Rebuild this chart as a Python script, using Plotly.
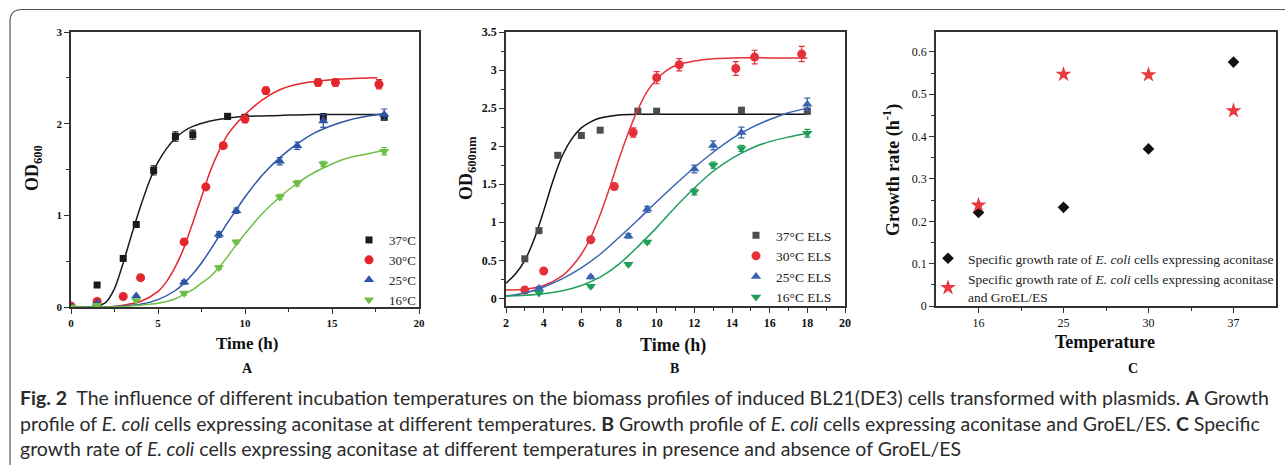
import plotly.graph_objects as go

W, H = 1285, 465

# ---------------- Panel A data ----------------
tA_37 = [0, 1.5, 3, 3.75, 4.75, 6, 7, 9, 10, 14.5, 18]
odA_37 = [0.0, 0.24, 0.53, 0.90, 1.49, 1.86, 1.88, 2.08, 2.07, 2.07, 2.07]
erA_37 = [0, 0, 0.02, 0.02, 0.05, 0.05, 0.05, 0.03, 0.03, 0.04, 0.03]

tA_30 = [0, 1.5, 3, 4, 6.5, 7.75, 8.75, 10, 11.2, 14.2, 15.2, 17.7]
odA_30 = [0.01, 0.06, 0.115, 0.32, 0.71, 1.31, 1.76, 2.05, 2.36, 2.45, 2.45, 2.43]
erA_30 = [0, 0, 0, 0, 0.02, 0.02, 0.03, 0.04, 0.04, 0.04, 0.04, 0.05]

tA_25 = [0, 1.5, 3.75, 6.5, 8.5, 9.5, 12, 13, 14.5, 18]
odA_25 = [0.0, 0.04, 0.12, 0.27, 0.79, 1.05, 1.59, 1.76, 2.03, 2.10]
erA_25 = [0, 0, 0, 0.02, 0.03, 0.03, 0.04, 0.04, 0.07, 0.06]

tA_16 = [0, 1.5, 3.75, 6.5, 8.5, 9.5, 12, 13, 14.5, 18]
odA_16 = [0.0, 0.02, 0.07, 0.15, 0.43, 0.71, 1.20, 1.35, 1.56, 1.70]
erA_16 = [0, 0, 0, 0.02, 0.02, 0.02, 0.03, 0.03, 0.03, 0.04]

# fitted curves
fA_37_t = [0, 1, 1.5, 2, 2.5, 3, 3.5, 4, 4.5, 5, 5.5, 6, 6.5, 7, 8, 9, 10, 12, 14, 18]
fA_37 = [0, 0, 0.01, 0.05, 0.2, 0.48, 0.8, 1.1, 1.37, 1.58, 1.73, 1.84, 1.92, 1.97, 2.03, 2.06, 2.08, 2.09, 2.1, 2.1]
fA_30_t = [0, 2, 3, 4, 5, 5.5, 6, 6.5, 7, 7.5, 8, 8.5, 9, 9.5, 10, 11, 12, 13, 14, 15, 16, 17.6]
fA_30 = [0, 0, 0.02, 0.06, 0.17, 0.28, 0.44, 0.65, 0.92, 1.2, 1.48, 1.7, 1.88, 2.0, 2.1, 2.26, 2.37, 2.43, 2.46, 2.48, 2.49, 2.5]
fA_25_t = [0, 2, 3, 4, 5, 6, 6.5, 7, 7.5, 8, 8.5, 9, 9.5, 10, 11, 12, 13, 14, 15, 16, 17, 18]
fA_25 = [0, 0, 0.01, 0.03, 0.08, 0.18, 0.26, 0.36, 0.48, 0.62, 0.77, 0.92, 1.06, 1.2, 1.44, 1.63, 1.78, 1.9, 1.98, 2.04, 2.08, 2.11]
fA_16_t = [0, 2, 4, 5, 6, 6.5, 7, 7.5, 8, 8.5, 9, 9.5, 10, 11, 12, 13, 14, 15, 16, 17, 18]
fA_16 = [0, 0, 0.02, 0.04, 0.09, 0.14, 0.19, 0.26, 0.33, 0.43, 0.55, 0.68, 0.8, 1.02, 1.2, 1.35, 1.47, 1.56, 1.63, 1.67, 1.71]

# ---------------- Panel B data ----------------
tB_37 = [3, 3.75, 4.75, 6, 7, 9, 10, 14.5, 18]
odB_37 = [0.52, 0.89, 1.88, 2.14, 2.21, 2.46, 2.46, 2.47, 2.46]
erB_37 = [0.01, 0.02, 0.02, 0.03, 0.03, 0.03, 0.03, 0.04, 0.04]

tB_30 = [3, 4, 6.5, 7.75, 8.75, 10, 11.2, 14.2, 15.2, 17.7]
odB_30 = [0.11, 0.36, 0.77, 1.47, 2.18, 2.90, 3.07, 3.02, 3.17, 3.21]
erB_30 = [0, 0, 0.02, 0.04, 0.06, 0.08, 0.08, 0.09, 0.09, 0.1]

tB_25 = [3.75, 6.5, 8.5, 9.5, 12, 13, 14.5, 18]
odB_25 = [0.13, 0.28, 0.82, 1.17, 1.70, 2.01, 2.18, 2.55]
erB_25 = [0.02, 0.02, 0.03, 0.04, 0.05, 0.06, 0.07, 0.08]

tB_16 = [3.75, 6.5, 8.5, 9.5, 12, 13, 14.5, 18]
odB_16 = [0.07, 0.16, 0.45, 0.74, 1.40, 1.75, 1.97, 2.17]
erB_16 = [0.01, 0.02, 0.02, 0.02, 0.04, 0.04, 0.04, 0.05]

fB_37_t = [2, 2.5, 3, 3.5, 4, 4.5, 5, 5.5, 6, 6.5, 7, 8, 9, 10, 12, 14, 16, 18]
fB_37 = [0.2, 0.32, 0.5, 0.78, 1.15, 1.55, 1.88, 2.1, 2.24, 2.32, 2.37, 2.41, 2.42, 2.42, 2.42, 2.42, 2.42, 2.42]
fB_30_t = [2, 3, 4, 5, 5.5, 6, 6.5, 7, 7.5, 8, 8.5, 9, 9.5, 10, 10.5, 11, 12, 13, 14, 16, 18]
fB_30 = [0.11, 0.12, 0.17, 0.3, 0.42, 0.58, 0.8, 1.1, 1.45, 1.83, 2.18, 2.48, 2.72, 2.88, 2.99, 3.06, 3.12, 3.15, 3.16, 3.16, 3.16]
fB_25_t = [2, 3, 4, 5, 6, 7, 8, 9, 10, 11, 12, 13, 14, 15, 16, 17, 18]
fB_25 = [0.03, 0.07, 0.15, 0.26, 0.4, 0.58, 0.8, 1.03, 1.27, 1.5, 1.72, 1.92, 2.1, 2.24, 2.35, 2.44, 2.5]
fB_16_t = [2, 3, 4, 5, 6, 7, 8, 9, 10, 11, 12, 13, 14, 15, 16, 17, 18]
fB_16 = [0.03, 0.04, 0.06, 0.1, 0.17, 0.28, 0.45, 0.68, 0.93, 1.2, 1.45, 1.67, 1.84, 1.97, 2.06, 2.12, 2.17]

# ---------------- Panel C data ----------------
temps = ["16", "25", "30", "37"]
rate_aconitase = [0.221, 0.233, 0.371, 0.576]
rate_groel = [0.238, 0.547, 0.546, 0.461]

# ---------------- styling ----------------
SERIF = "Liberation Serif"
CAP = "Lato"
AXC = "#333333"

colA = {"37": "#1b1b1b", "30": "#e3262b", "25": "#2d55a5", "16": "#6cbf44"}
colB = {"37": "#4d4d4d", "30": "#e4313a", "25": "#3a64b0", "16": "#1f9d5a"}
sym = {"37": "square", "30": "circle", "25": "triangle-up", "16": "triangle-down"}
msize = {"37": 7, "30": 9, "25": 9, "16": 9}

fig = go.Figure()

def px_x(p):
    return p / W

def px_y(p):
    return 1 - p / H

# Panel A
for key, t, od, er, ft, fv in [
    ("37", tA_37, odA_37, erA_37, fA_37_t, fA_37),
    ("30", tA_30, odA_30, erA_30, fA_30_t, fA_30),
    ("25", tA_25, odA_25, erA_25, fA_25_t, fA_25),
    ("16", tA_16, odA_16, erA_16, fA_16_t, fA_16),
]:
    fig.add_trace(go.Scatter(x=ft, y=fv, mode="lines", line=dict(color=colA[key], width=1.5, shape="spline", smoothing=0.8),
                             showlegend=False, xaxis="x", yaxis="y", hoverinfo="skip"))
    fig.add_trace(go.Scatter(x=t, y=od, mode="markers", name=key + "°C",
                             marker=dict(symbol=sym[key], size=msize[key], color=colA[key]),
                             error_y=dict(type="data", array=er, color=colA[key], thickness=1.2, width=3),
                             xaxis="x", yaxis="y", legend="legend"))

# Panel B
for key, t, od, er, ft, fv in [
    ("37", tB_37, odB_37, erB_37, fB_37_t, fB_37),
    ("30", tB_30, odB_30, erB_30, fB_30_t, fB_30),
    ("25", tB_25, odB_25, erB_25, fB_25_t, fB_25),
    ("16", tB_16, odB_16, erB_16, fB_16_t, fB_16),
]:
    lc = "#111111" if key == "37" else colB[key]
    fig.add_trace(go.Scatter(x=ft, y=fv, mode="lines", line=dict(color=lc, width=1.5, shape="spline", smoothing=0.8),
                             showlegend=False, xaxis="x2", yaxis="y2", hoverinfo="skip"))
    fig.add_trace(go.Scatter(x=t, y=od, mode="markers", name=key + "°C ELS",
                             marker=dict(symbol=sym[key], size=msize[key], color=colB[key]),
                             error_y=dict(type="data", array=er, color=colB[key], thickness=1.2, width=3),
                             xaxis="x2", yaxis="y2", legend="legend2"))

# Panel C
posC = list(range(len(temps)))
fig.add_trace(go.Scatter(x=posC, y=rate_aconitase, mode="markers",
                         name="Specific growth rate of <i>E. coli</i> cells expressing aconitase",
                         marker=dict(symbol="diamond", size=9, color="#111111"),
                         xaxis="x3", yaxis="y3", legend="legend3"))
fig.add_trace(go.Scatter(x=posC, y=rate_groel, mode="markers",
                         name="Specific growth rate of <i>E. coli</i> cells expressing aconitase<br>and GroEL/ES",
                         marker=dict(symbol="star", size=12, color="#ea3a3f"),
                         xaxis="x3", yaxis="y3", legend="legend3"))

def axis(domain, rng, dtick, minor_dtick, tfont, anchor, **kw):
    d = dict(domain=domain, range=rng, showline=True, linecolor=AXC, linewidth=1.5, mirror=True,
             ticks="outside", ticklen=5, tickwidth=1.3, tickcolor=AXC, showgrid=False, zeroline=False,
             tickfont=tfont, anchor=anchor, automargin=False)
    if dtick is not None:
        d.update(dtick=dtick, tick0=0)
    if minor_dtick is not None:
        d["minor"] = dict(ticks="outside", ticklen=3, tickwidth=1.2, tickcolor=AXC, dtick=minor_dtick, showgrid=False)
    d.update(kw)
    return d

fontA = dict(family=SERIF, size=11, color="#111", weight="bold")
fontB = dict(family=SERIF, size=12, color="#111", weight="bold")
fontC = dict(family=SERIF, size=12, color="#111")

yA = [px_y(307), px_y(32)]
yB = [px_y(306), px_y(32)]
yC = [px_y(306), px_y(32)]

layout = dict(
    template="none",
    width=W, height=H, margin=dict(l=0, r=0, t=0, b=0, autoexpand=False),
    paper_bgcolor="white", plot_bgcolor="white",
    xaxis=axis([px_x(71), px_x(419)], [0, 20], 5, 2.5, fontA, "y"),
    yaxis=axis(yA, [0, 3], 1, 0.5, fontA, "x"),
    xaxis2=axis([px_x(506), px_x(845)], [2, 20], 2, 1, fontB, "y2"),
    yaxis2=axis(yB, [-0.1, 3.5], 0.5, 0.25, fontB, "x2"),
    xaxis3=axis([px_x(936), px_x(1276)], [-0.5, 3.5], None, None, fontC, "y3",
                tickmode="array", tickvals=posC, ticktext=temps,
                minor=dict(ticks="outside", ticklen=3, tickwidth=1.2, tickcolor=AXC,
                           tickmode="array", tickvals=[p + 0.5 for p in posC[:-1]], showgrid=False)),
    yaxis3=axis(yC, [0, 0.647], 0.1, 0.05, fontC, "x3"),
    legend=dict(x=px_x(349), y=px_y(225), xanchor="left", yanchor="top", bgcolor="rgba(0,0,0,0)",
                font=dict(family=SERIF, size=13, color="#222"), itemwidth=30, tracegroupgap=0),
    legend2=dict(x=px_x(736), y=px_y(220), xanchor="left", yanchor="top", bgcolor="rgba(0,0,0,0)",
                 font=dict(family=SERIF, size=13.5, color="#222"), itemwidth=30, tracegroupgap=0),
    legend3=dict(x=px_x(928), y=px_y(243), xanchor="left", yanchor="top", bgcolor="rgba(0,0,0,0)",
                 font=dict(family=SERIF, size=13.5, color="#222"), itemwidth=30, tracegroupgap=0),
)
fig.update_layout(**layout)

def ann(text, x, y, size, bold=True, angle=0, family=SERIF, color="#111", xanchor="center"):
    fig.add_annotation(text=text, x=px_x(x), y=px_y(y), xref="paper", yref="paper", showarrow=False,
                       textangle=angle, xanchor=xanchor, yanchor="middle",
                       font=dict(family=family, size=size, color=color, weight="bold" if bold else "normal"))

# axis titles & panel letters
ann("OD<sub>600</sub>", 33, 168, 18, angle=-90)
ann("Time (h)", 247, 343, 17)
ann("A", 247, 368, 14)
ann("OD<sub>600nm</sub>", 467, 168, 18, angle=-90)
ann("Time (h)", 673, 345, 18)
ann("B", 674, 368, 14)
ann("Growth rate (h<sup>-1</sup>)", 892, 170, 18, angle=-90)
ann("Temperature", 1105, 342, 18)
ann("C", 1133, 368, 14)

# caption
cap = [
    "<b>Fig. 2</b>  The influence of different incubation temperatures on the biomass profiles of induced BL21(DE3) cells transformed with plasmids. <b>A</b> Growth",
    "profile of <i>E. coli</i> cells expressing aconitase at different temperatures. <b>B</b> Growth profile of <i>E. coli</i> cells expressing aconitase and GroEL/ES. <b>C</b> Specific",
    "growth rate of <i>E. coli</i> cells expressing aconitase at different temperatures in presence and absence of GroEL/ES",
]
for line, yy in zip(cap, [397, 423, 448]):
    ann(line, 18, yy, 19.5, bold=False, family=CAP, color="#2b2b2b", xanchor="left")

# frame
def P(x, y):
    return f"{x / W:.5f},{1 - y / H:.5f}"

path = f"M {P(1300, 9.5)} L {P(22, 9.5)} Q {P(10, 9.5)} {P(10, 21.5)} L {P(10, 480)}"
fig.add_shape(type="path", path=path, xref="paper", yref="paper", line=dict(color="#555", width=1.2))

fig.write_html("out.html")
